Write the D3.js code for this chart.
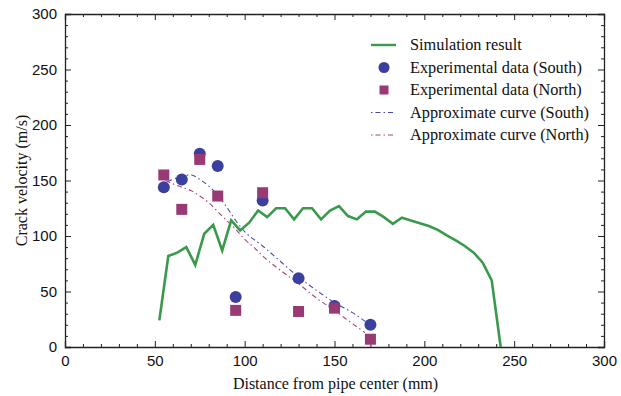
<!DOCTYPE html>
<meta charset="utf-8" />
<style>
  body { margin: 0; background: #fff; }
  svg { font-family: "Liberation Serif", "Times New Roman", serif; }
  .frame .domain { stroke: #222; stroke-width: 1.3; }
  .frame line { stroke: #222; stroke-width: 1; }
  .frame text { font-size: 15px; fill: #111; }
</style>
<body>
<div class="container"></div>
<script src="https://d3js.org/d3.v7.min.js"></script>
<script>
  // simulation curve (distance mm, velocity m/s)
  const simX = [52.5, 57.5, 62.5, 67.5, 72.5, 77.5, 82.5, 87.5, 92.5, 97.5, 102.5, 107.5, 112.5,
    117.5, 122.5, 127.5, 132.5, 137.5, 142.5, 147.5, 152.5, 157.5, 162.5, 167.5, 172.5, 177.5,
    182.5, 187.5, 192.5, 197.5, 202.5, 207.5, 212.5, 217.5, 222.5, 227.5, 232.5, 237.5, 242.5];
  const simY = [24, 82, 85, 90, 74, 102, 110, 87, 114, 105, 112, 123, 117,
    125, 125, 115, 125, 125, 115, 123, 127, 118, 115, 122, 122, 117,
    111, 116.5, 114, 111.5, 109, 105.5, 100.5, 96, 91, 85, 76, 60, 0];

  // experimental points
  const expX = [55, 65, 75, 85, 95, 110, 130, 150, 170];
  const southY = [144, 151, 174, 163, 45, 132, 62, 37, 20];
  const northY = [155, 124, 169, 136, 33, 139, 32, 35, 7];

  // approximate curves
  const southCurveX = [57, 60, 65, 70, 75, 80, 85, 90, 95, 100, 110, 120, 130, 140, 150, 160, 168];
  const southCurveY = [149, 151, 154, 155, 151, 145, 137, 126, 114, 104, 91, 77, 63, 51, 40, 31, 22];
  const northCurveX = [56, 60, 65, 70, 75, 80, 85, 90, 95, 100, 105, 110, 120, 130, 140, 150, 160, 167];
  const northCurveY = [150, 147, 144, 141, 136, 130, 122, 114, 106, 97, 90, 82, 69, 57, 44, 33, 21, 13];

  const majorTicks = [0, 50, 100, 150, 200, 250, 300];
  const minorTicks = d3.range(0, 301, 10).filter(v => v % 50 !== 0);

  const legendLabels = ["Simulation result", "Experimental data (South)", "Experimental data (North)",
    "Approximate curve (South)", "Approximate curve (North)"];

  const green = "#3a9a4c", blue = "#3b3f9e", purple = "#993a74";

  const W = 621, H = 396;
  const margin = { top: 14, right: 17, bottom: 49, left: 65 };
  const width = W - margin.left - margin.right,
    height = H - margin.top - margin.bottom;

  const svg = d3.select(".container").append("svg")
    .attr("width", W).attr("height", H);
  const g = svg.append("g")
    .attr("transform", "translate(" + margin.left + "," + margin.top + ")");

  const x = d3.scaleLinear().domain([0, 300]).range([0, width]);
  const y = d3.scaleLinear().domain([0, 300]).range([height, 0]);

  // frame with inward ticks on every side
  function frame(axis, scale, ticks, size, labelled, tr) {
    const a = axis(scale).tickValues(ticks).tickSize(-size).tickPadding(8);
    if (!labelled) a.tickFormat("");
    const sel = g.append("g").attr("class", "frame").attr("transform", tr).call(a);
    return sel;
  }
  const bottomT = "translate(0," + height + ")", rightT = "translate(" + width + ",0)";
  frame(d3.axisBottom, x, majorTicks, 6, true, bottomT);
  frame(d3.axisBottom, x, minorTicks, 3, false, bottomT).select(".domain").remove();
  frame(d3.axisLeft, y, majorTicks, 6, true, null);
  frame(d3.axisLeft, y, minorTicks, 3, false, null).select(".domain").remove();
  frame(d3.axisTop, x, majorTicks, 6, false, null);
  frame(d3.axisTop, x, minorTicks, 3, false, null).select(".domain").remove();
  frame(d3.axisRight, y, majorTicks, 6, false, rightT);
  frame(d3.axisRight, y, minorTicks, 3, false, rightT).select(".domain").remove();
  g.selectAll(".frame .domain").attr("fill", "none");

  const plot = g.append("g");
  const line = d3.line().x(d => x(d[0])).y(d => y(d[1]));
  const curve = d3.line().curve(d3.curveMonotoneX).x(d => x(d[0])).y(d => y(d[1]));

  plot.append("path")
    .datum(southCurveX.map((v, i) => [v, southCurveY[i]]))
    .attr("d", curve).attr("fill", "none")
    .attr("stroke", "#4448b8").attr("stroke-width", 1.1)
    .attr("stroke-dasharray", "5,3,1.5,3");
  plot.append("path")
    .datum(northCurveX.map((v, i) => [v, northCurveY[i]]))
    .attr("d", curve).attr("fill", "none")
    .attr("stroke", "#a6457f").attr("stroke-width", 1.1)
    .attr("stroke-dasharray", "5,3,1.5,3");

  plot.append("path")
    .datum(simX.map((v, i) => [v, simY[i]]))
    .attr("d", line).attr("fill", "none")
    .attr("stroke", green).attr("stroke-width", 2.6)
    .attr("stroke-linejoin", "miter");

  plot.selectAll("circle.south")
    .data(expX.map((v, i) => [v, southY[i]]))
    .enter().append("circle").attr("class", "south")
    .attr("cx", d => x(d[0])).attr("cy", d => y(d[1]))
    .attr("r", 6).attr("fill", blue);

  plot.selectAll("rect.north")
    .data(expX.map((v, i) => [v, northY[i]]))
    .enter().append("rect").attr("class", "north")
    .attr("x", d => x(d[0]) - 5.5).attr("y", d => y(d[1]) - 5.5)
    .attr("width", 11).attr("height", 11).attr("fill", purple);

  // axis titles
  svg.append("text")
    .attr("x", margin.left + width / 2 + 1).attr("y", 389)
    .attr("text-anchor", "middle").attr("font-size", 16).attr("fill", "#111")
    .text("Distance from pipe center (mm)");
  svg.append("text")
    .attr("transform", "translate(27," + (margin.top + height / 2) + ") rotate(-90)")
    .attr("text-anchor", "middle").attr("font-size", 16).attr("fill", "#111")
    .text("Crack velocity (m/s)");

  // legend
  const legend = svg.append("g").attr("transform", "translate(371,45)");
  const rowH = 22.5;
  legendLabels.forEach(function (lab, i) {
    const row = legend.append("g").attr("transform", "translate(0," + i * rowH + ")");
    if (i === 0) {
      row.append("line").attr("x1", 0).attr("x2", 25).attr("y1", 0).attr("y2", 0)
        .attr("stroke", green).attr("stroke-width", 2.4);
    } else if (i === 1) {
      row.append("circle").attr("cx", 13).attr("cy", 0).attr("r", 5.5).attr("fill", blue);
    } else if (i === 2) {
      row.append("rect").attr("x", 8.5).attr("y", -4.5).attr("width", 9).attr("height", 9).attr("fill", purple);
    } else {
      row.append("line").attr("x1", 0).attr("x2", 25).attr("y1", 0).attr("y2", 0)
        .attr("stroke", i === 3 ? "#4448b8" : "#a6457f").attr("stroke-width", 1.1)
        .attr("stroke-dasharray", "1.5,3,5,3");
    }
    row.append("text").attr("x", 39).attr("y", 5).attr("font-size", 16.3).attr("fill", "#111")
      .text(lab);
  });
</script>
</body>
